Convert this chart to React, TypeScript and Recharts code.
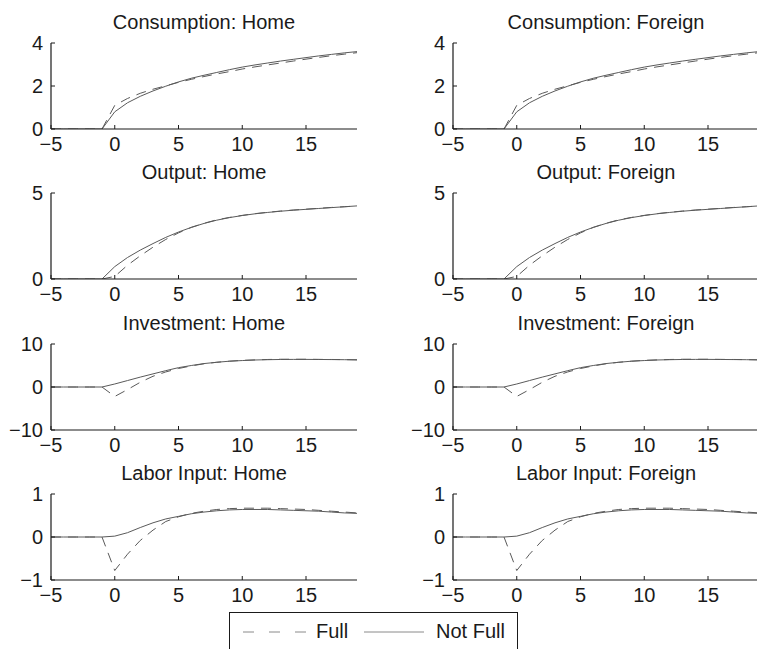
import React from "react";
import { LineChart, Line, XAxis, YAxis } from "recharts";

const T = [-5, -4, -3, -2, -1, 0, 1, 2, 3, 4, 5, 6, 7, 8, 9, 10, 11, 12, 13, 14, 15, 16, 17, 18, 19];
const X_TICKS = [-5, 0, 5, 10, 15];

const consFull = [0, 0, 0, 0, 0, 1.1, 1.42, 1.66, 1.85, 2.01, 2.17, 2.31, 2.44, 2.56, 2.67, 2.79, 2.89, 2.98, 3.07, 3.16, 3.25, 3.33, 3.41, 3.48, 3.55];
const consNotFull = [0, 0, 0, 0, 0, 0.8, 1.22, 1.52, 1.77, 1.99, 2.19, 2.36, 2.5, 2.63, 2.76, 2.88, 2.98, 3.07, 3.16, 3.24, 3.32, 3.4, 3.47, 3.54, 3.6];
const outFull = [0, 0, 0, 0, 0, 0.15, 0.8, 1.35, 1.85, 2.3, 2.68, 3.0, 3.24, 3.44, 3.58, 3.7, 3.8, 3.88, 3.95, 4.01, 4.06, 4.11, 4.16, 4.2, 4.24];
const outNotFull = [0, 0, 0, 0, 0, 0.72, 1.25, 1.68, 2.06, 2.42, 2.73, 3.0, 3.23, 3.42, 3.57, 3.69, 3.79, 3.87, 3.94, 4.0, 4.05, 4.1, 4.15, 4.2, 4.25];
const invFull = [0, 0, 0, 0, 0, -2.2, -0.6, 1.1, 2.5, 3.5, 4.3, 4.9, 5.4, 5.75, 6.0, 6.2, 6.3, 6.4, 6.45, 6.45, 6.45, 6.42, 6.4, 6.37, 6.33];
const invNotFull = [0, 0, 0, 0, 0, 0.7, 1.5, 2.3, 3.05, 3.8, 4.5, 5.0, 5.45, 5.75, 6.0, 6.15, 6.28, 6.35, 6.4, 6.42, 6.42, 6.4, 6.38, 6.35, 6.3];
const labFull = [0, 0, 0, 0, 0, -0.78, -0.4, -0.08, 0.16, 0.36, 0.47, 0.55, 0.6, 0.64, 0.66, 0.67, 0.67, 0.67, 0.66, 0.65, 0.64, 0.62, 0.6, 0.58, 0.56];
const labNotFull = [0, 0, 0, 0, 0, 0.02, 0.1, 0.22, 0.33, 0.42, 0.48, 0.54, 0.58, 0.61, 0.63, 0.64, 0.64, 0.64, 0.63, 0.62, 0.61, 0.6, 0.58, 0.56, 0.55];

const rows = [
  { name: "Consumption", full: consFull, notFull: consNotFull, domain: [0, 4], ticks: [0, 2, 4] },
  { name: "Output", full: outFull, notFull: outNotFull, domain: [0, 5], ticks: [0, 5] },
  { name: "Investment", full: invFull, notFull: invNotFull, domain: [-10, 10], ticks: [-10, 0, 10] },
  { name: "Labor Input", full: labFull, notFull: labNotFull, domain: [-1, 1], ticks: [-1, 0, 1] },
];
const columns = ["Home", "Foreign"];

const FONT = "'Liberation Sans', Arial, Helvetica, sans-serif";
const FS = 20;
const PW = 306;
const PH = 86;
const COL_LEFT = [51, 453];
const ROW_TOP = [43, 193, 344, 494];
const YAXIS_W = 50;
const M_TOP = 15;
const XAXIS_H = 35;
const LINE_COLOR = "#5a5a5a";
const AXIS_COLOR = "#1a1a1a";

const fmt = (v: number) => (v < 0 ? "\u2212" + Math.abs(v) : String(v));

function Panel({ row, col }: { row: number; col: number }) {
  const r = rows[row];
  const data = T.map((t, i) => ({ t, full: r.full[i], notFull: r.notFull[i] }));
  const left = COL_LEFT[col];
  const top = ROW_TOP[row];
  const tickStyle = { fontSize: FS, fontFamily: FONT, fill: AXIS_COLOR };
  return (
    <>
      <div
        style={{
          position: "absolute",
          left: left,
          width: PW,
          top: top - 30.6,
          lineHeight: "20px",
          fontSize: FS,
          fontFamily: FONT,
          color: AXIS_COLOR,
          textAlign: "center",
          whiteSpace: "nowrap",
        }}
      >
        {r.name}: {columns[col]}
      </div>
      <div style={{ position: "absolute", left: left - YAXIS_W, top: top - M_TOP }}>
        <LineChart
          width={PW + YAXIS_W + 10}
          height={PH + M_TOP + XAXIS_H}
          data={data}
          margin={{ top: M_TOP, right: 10, left: 0, bottom: 0 }}
          style={{ overflow: "visible" }}
        >
          <XAxis
            dataKey="t"
            type="number"
            domain={[-5, 19]}
            ticks={X_TICKS}
            interval={0}
            allowDataOverflow
            height={XAXIS_H}
            tickSize={-4}
            tickMargin={12}
            tickFormatter={fmt}
            tick={tickStyle}
            stroke={AXIS_COLOR}
            axisLine={{ stroke: AXIS_COLOR, strokeWidth: 1.2 }}
            tickLine={{ stroke: AXIS_COLOR }}
          />
          <XAxis
            xAxisId="top"
            orientation="top"
            dataKey="t"
            type="number"
            domain={[-5, 19]}
            ticks={X_TICKS}
            interval={0}
            allowDataOverflow
            height={0}
            tickSize={-4}
            tick={false}
            axisLine={{ stroke: AXIS_COLOR, strokeWidth: 1.2 }}
            tickLine={{ stroke: AXIS_COLOR }}
          />
          <YAxis
            type="number"
            domain={r.domain}
            ticks={r.ticks}
            interval={0}
            allowDataOverflow
            width={YAXIS_W}
            tickSize={-4}
            tickMargin={12}
            tickFormatter={fmt}
            tick={tickStyle}
            axisLine={{ stroke: AXIS_COLOR, strokeWidth: 1.2 }}
            tickLine={{ stroke: AXIS_COLOR }}
          />
          <YAxis
            yAxisId="right"
            orientation="right"
            type="number"
            domain={r.domain}
            ticks={r.ticks}
            interval={0}
            allowDataOverflow
            width={0}
            tickSize={-4}
            tick={false}
            axisLine={{ stroke: AXIS_COLOR, strokeWidth: 1.2 }}
            tickLine={{ stroke: AXIS_COLOR }}
          />
          <Line
            type="linear"
            dataKey="full"
            stroke={LINE_COLOR}
            strokeWidth={1}
            strokeDasharray="10 7"
            dot={false}
            isAnimationActive={false}
          />
          <Line
            type="linear"
            dataKey="notFull"
            stroke={LINE_COLOR}
            strokeWidth={1}
            dot={false}
            isAnimationActive={false}
          />
        </LineChart>
      </div>
    </>
  );
}

function LegendBox() {
  const textStyle: React.CSSProperties = {
    position: "absolute",
    top: 8.4,
    lineHeight: "20px",
    fontSize: FS,
    fontFamily: FONT,
    color: AXIS_COLOR,
    whiteSpace: "nowrap",
  };
  return (
    <div
      style={{
        position: "absolute",
        left: 229,
        top: 612,
        width: 287,
        height: 60,
        border: `1px solid ${AXIS_COLOR}`,
        background: "#fff",
      }}
    >
      <svg style={{ position: "absolute", left: 0, top: 0 }} width={287} height={40}>
        <line x1={13} y1={19} x2={78} y2={19} stroke="#8a8a8a" strokeWidth={1} strokeDasharray="11 15" />
        <line x1={134} y1={19} x2={194} y2={19} stroke="#8a8a8a" strokeWidth={1} />
      </svg>
      <span style={{ ...textStyle, left: 86 }}>Full</span>
      <span style={{ ...textStyle, left: 206 }}>Not Full</span>
    </div>
  );
}

export default function App() {
  return (
    <div
      style={{
        position: "absolute",
        left: 0,
        top: 0,
        width: 757,
        height: 649,
        overflow: "hidden",
        background: "#fff",
      }}
    >
      {rows.map((_, ri) =>
        columns.map((_, ci) => <Panel key={`${ri}-${ci}`} row={ri} col={ci} />)
      )}
      <LegendBox />
    </div>
  );
}
